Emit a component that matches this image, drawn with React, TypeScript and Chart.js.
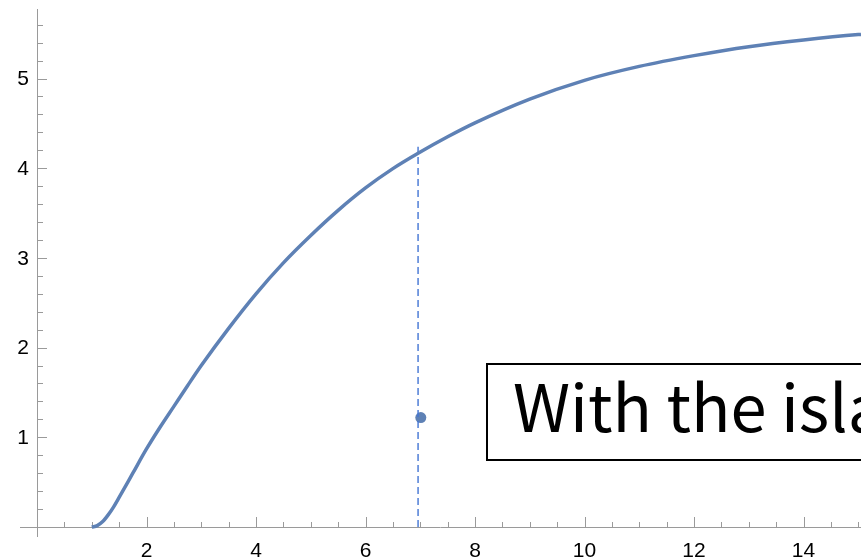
import React, { useEffect, useRef } from "react";
import { Chart, registerables } from "chart.js";

Chart.register(...registerables);

// Curve samples (x, y)
const curveX = [1, 1.1, 1.2, 1.3, 1.4, 1.5, 1.75, 2, 2.25, 2.5, 2.75, 3, 3.5, 4, 4.5, 5, 5.5, 6, 6.5, 7, 7.5, 8, 9, 10, 11, 12, 13, 14, 15, 15.05];
const curveY = [0, 0.015, 0.06, 0.135, 0.225, 0.33, 0.6, 0.87, 1.115, 1.345, 1.575, 1.8, 2.215, 2.6, 2.945, 3.25, 3.53, 3.78, 3.995, 4.18, 4.35, 4.505, 4.77, 4.98, 5.135, 5.255, 5.355, 5.43, 5.49, 5.492];

// Vertical dashed marker
const markerX = [6.96, 6.96];
const markerY = [0, 4.24];

// Single point
const pointX = [7.01];
const pointY = [1.22];

// Axis ranges and ticks
const xRange = [0, 15.05];
const yRange = [0, 5.775];
const xMajorTicks = [2, 4, 6, 8, 10, 12, 14];
const yMajorTicks = [1, 2, 3, 4, 5];
const xMinorStep = 0.5;
const yMinorStep = 0.2;

// Inset label
const insetText = "With the island";
const insetBox = { x: 8.22, yTop: 1.82, yBottom: 0.75 };

const CURVE_COLOR = "#5E81B5";
const DASH_COLOR = "#4375D4";
const AXIS_COLOR = "#9a9a9a";

const axesPlugin = {
  id: "mmaAxes",
  beforeDatasetsDraw(chart: any) {
    const ctx = chart.ctx;
    const xs = chart.scales.x;
    const ys = chart.scales.y;
    const x0 = Math.round(xs.getPixelForValue(0));
    const y0 = Math.round(ys.getPixelForValue(0));
    ctx.save();
    ctx.strokeStyle = AXIS_COLOR;
    ctx.lineWidth = 1;
    // axis lines
    ctx.beginPath();
    ctx.moveTo(x0 - 17, y0 + 0.5);
    ctx.lineTo(chart.width, y0 + 0.5);
    ctx.moveTo(x0 + 0.5, ys.getPixelForValue(yRange[1]));
    ctx.lineTo(x0 + 0.5, y0 + 10);
    ctx.stroke();
    // x ticks
    ctx.beginPath();
    for (let v = xMinorStep; v <= xRange[1] + 1e-9; v += xMinorStep) {
      const px = Math.round(xs.getPixelForValue(v)) + 0.5;
      const major = xMajorTicks.some((m) => Math.abs(m - v) < 1e-6);
      ctx.moveTo(px, y0);
      ctx.lineTo(px, y0 - (major ? 10 : 5));
    }
    // y ticks
    for (let v = yMinorStep; v <= yRange[1] + 1e-9; v += yMinorStep) {
      const py = Math.round(ys.getPixelForValue(v)) + 0.5;
      const major = yMajorTicks.some((m) => Math.abs(m - v) < 1e-6);
      ctx.moveTo(x0, py);
      ctx.lineTo(x0 + (major ? 10 : 6), py);
    }
    ctx.stroke();
    // labels
    ctx.fillStyle = "#000";
    ctx.font = "21px 'Liberation Sans', Arial, sans-serif";
    ctx.textAlign = "center";
    ctx.textBaseline = "alphabetic";
    xMajorTicks.forEach((v) => {
      ctx.fillText(String(v), xs.getPixelForValue(v), y0 + 30);
    });
    ctx.textAlign = "right";
    ctx.textBaseline = "middle";
    yMajorTicks.forEach((v) => {
      ctx.fillText(String(v), x0 - 8, ys.getPixelForValue(v) + 1);
    });
    ctx.restore();
  },
  afterDraw(chart: any) {
    const ctx = chart.ctx;
    const xs = chart.scales.x;
    const ys = chart.scales.y;
    const left = Math.round(xs.getPixelForValue(insetBox.x));
    const top = Math.round(ys.getPixelForValue(insetBox.yTop));
    const bottom = Math.round(ys.getPixelForValue(insetBox.yBottom));
    ctx.save();
    ctx.fillStyle = "#fff";
    ctx.fillRect(left, top, chart.width - left + 20, bottom - top);
    ctx.strokeStyle = "#000";
    ctx.lineWidth = 2;
    ctx.strokeRect(left, top, chart.width - left + 20, bottom - top);
    ctx.fillStyle = "#000";
    ctx.font = "65px 'Noto Sans CJK JP', 'Noto Sans', sans-serif";
    ctx.textAlign = "left";
    ctx.textBaseline = "alphabetic";
    ctx.fillText(insetText, left + 26, bottom - 28);
    ctx.restore();
  },
};

export default function App() {
  const ref = useRef<HTMLCanvasElement | null>(null);
  useEffect(() => {
    if (!ref.current) return;
    const chart = new Chart(ref.current, {
      type: "scatter",
      data: {
        datasets: [
          {
            data: curveX.map((x, i) => ({ x, y: curveY[i] })),
            showLine: true,
            borderColor: CURVE_COLOR,
            backgroundColor: CURVE_COLOR,
            borderWidth: 3.5,
            pointRadius: 0,
            cubicInterpolationMode: "monotone",
            clip: false,
          } as any,
          {
            data: markerX.map((x, i) => ({ x, y: markerY[i] })),
            showLine: true,
            borderColor: DASH_COLOR,
            borderWidth: 1.4,
            borderDash: [7, 4],
            pointRadius: 0,
          } as any,
          {
            data: pointX.map((x, i) => ({ x, y: pointY[i] })),
            borderColor: CURVE_COLOR,
            backgroundColor: CURVE_COLOR,
            pointRadius: 5.5,
            pointBorderWidth: 0,
          } as any,
        ],
      },
      options: {
        animation: false,
        responsive: false,
        layout: { autoPadding: false, padding: { left: 37, right: 0, top: 9, bottom: 32 } },
        plugins: { legend: { display: false }, tooltip: { enabled: false } },
        scales: {
          x: { type: "linear", display: false, min: xRange[0], max: xRange[1] },
          y: { type: "linear", display: false, min: yRange[0], max: yRange[1] },
        },
      } as any,
      plugins: [axesPlugin],
    });
    return () => chart.destroy();
  }, []);
  return (
    <div style={{ position: "fixed", left: 0, top: 0, width: 861, height: 559, background: "#fff" }}>
      <canvas ref={ref} width={861} height={559} style={{ width: 861, height: 559 }} />
    </div>
  );
}
